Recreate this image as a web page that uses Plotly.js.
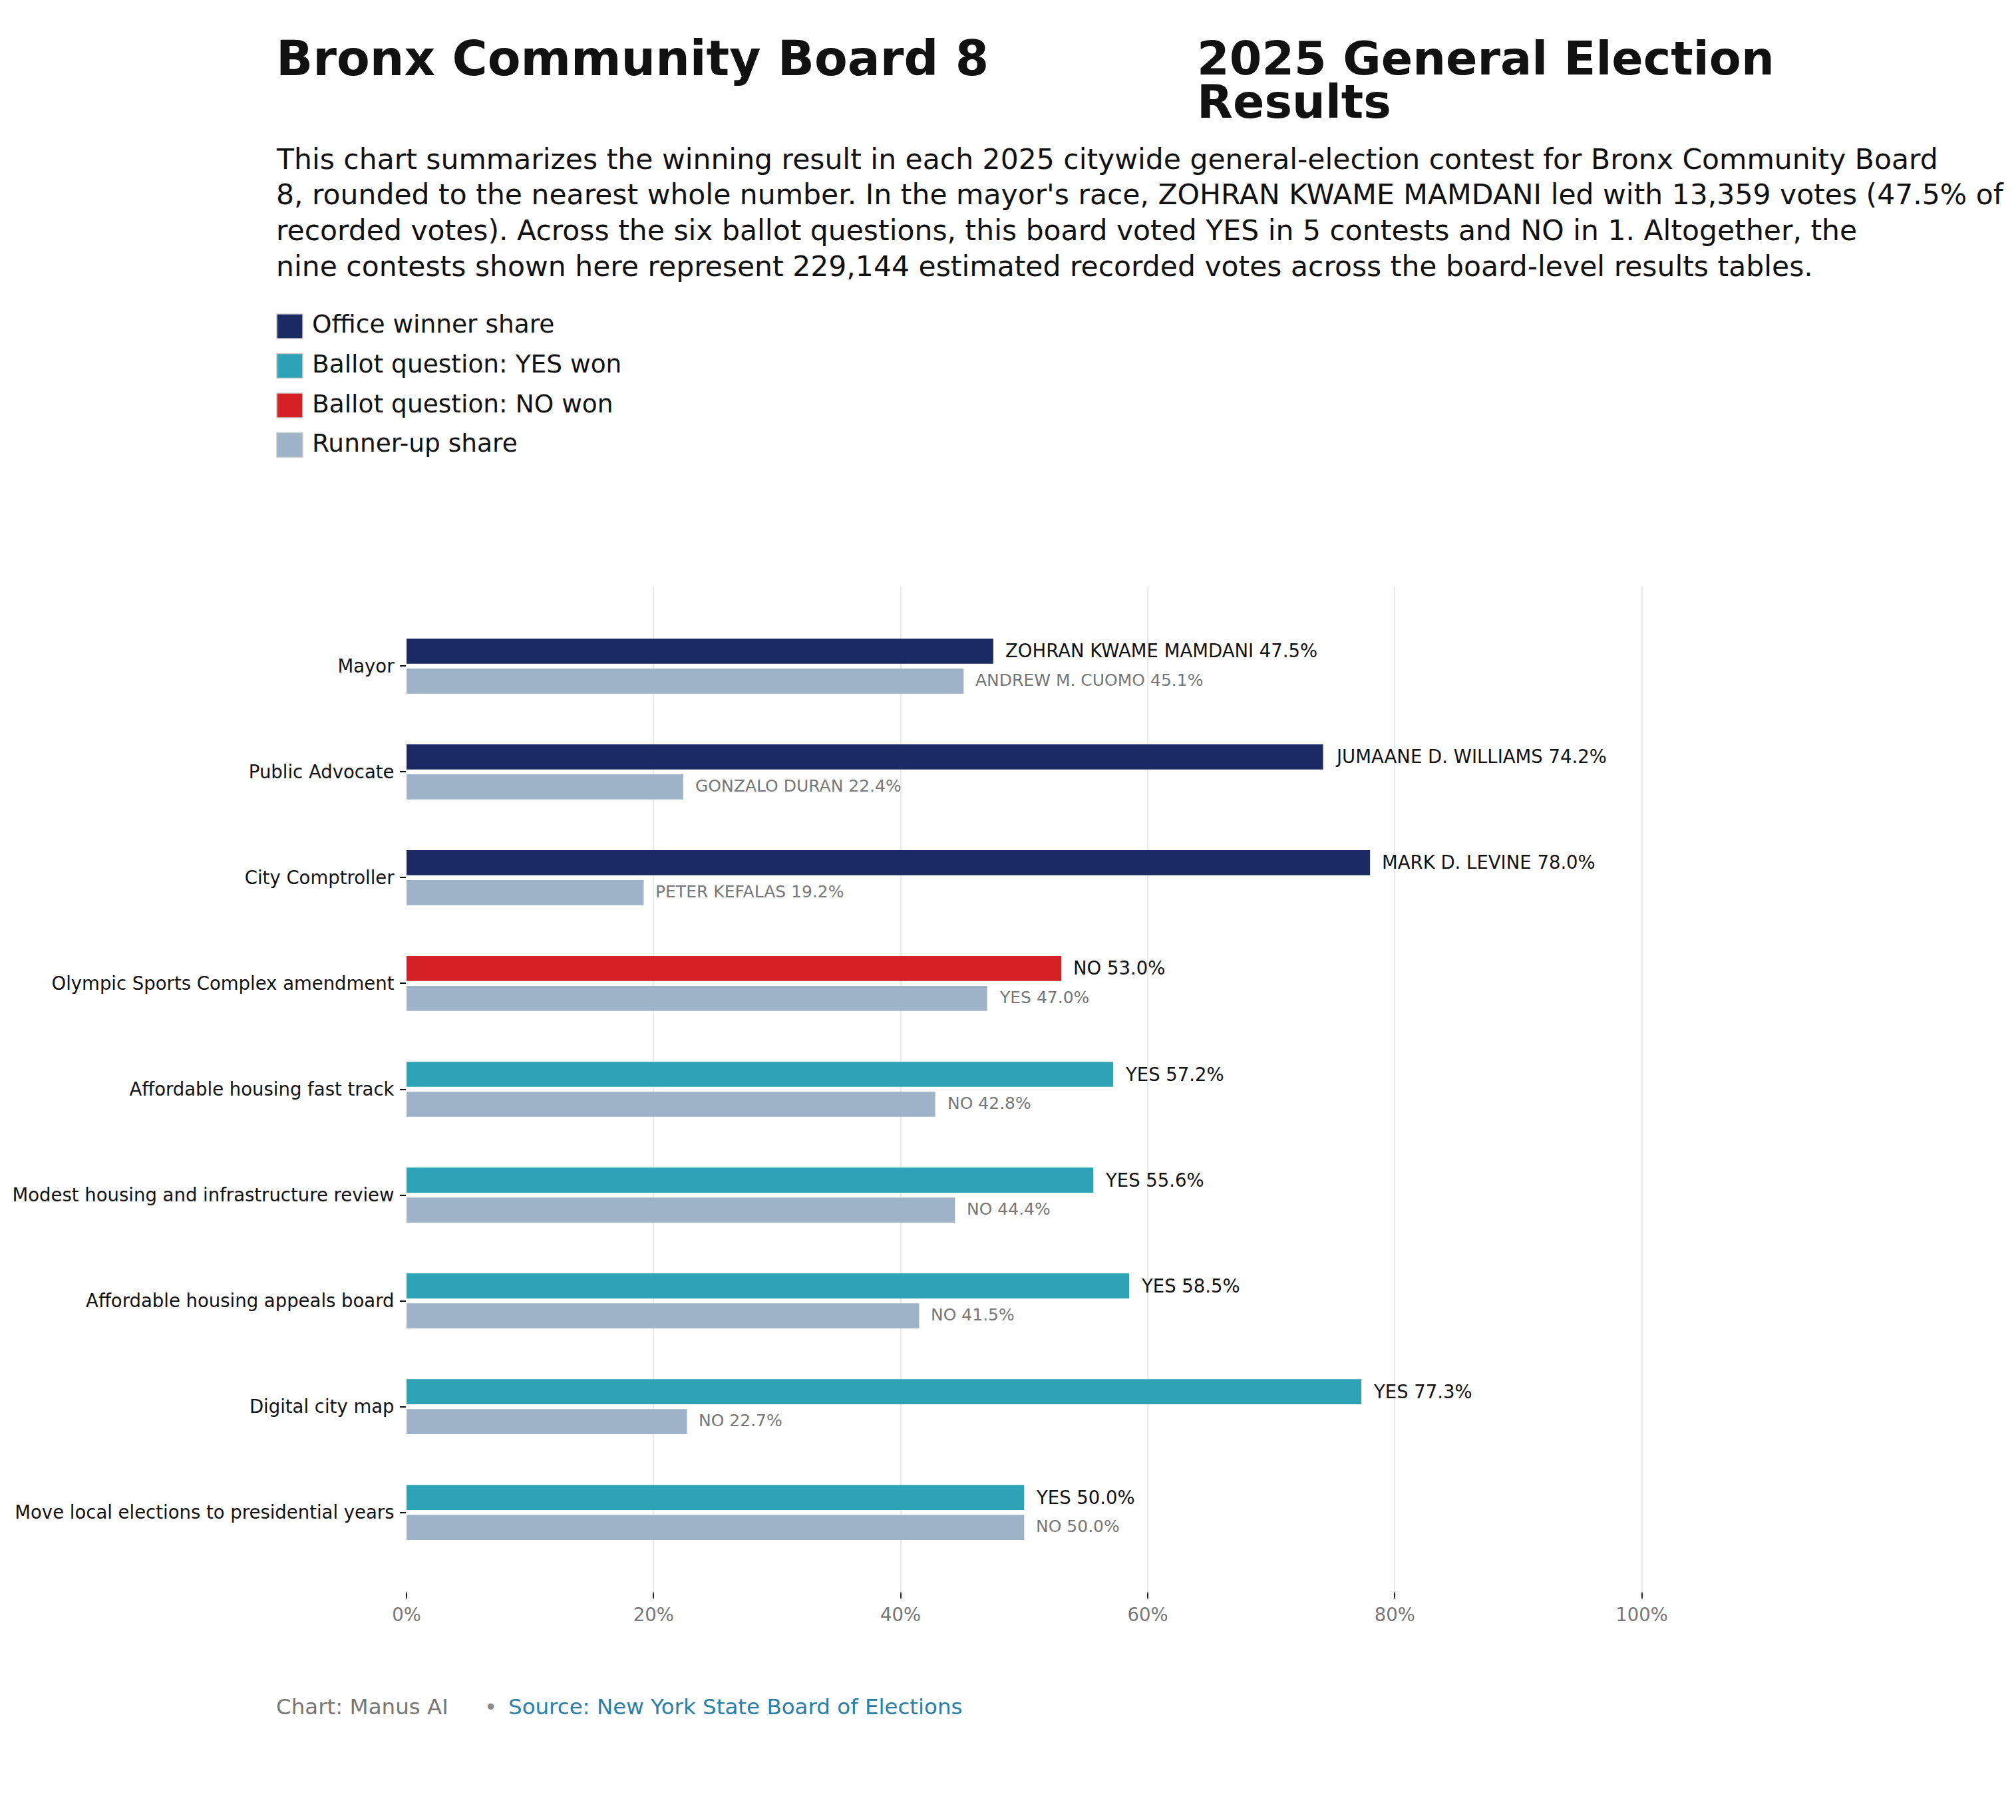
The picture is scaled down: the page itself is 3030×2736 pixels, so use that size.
<!DOCTYPE html>
<html>
<head>
<meta charset="utf-8">
<script src="https://cdn.plot.ly/plotly-3.0.1.min.js"></script>
<style>
  html, body { margin: 0; padding: 0; background: #ffffff; }
  #chart { width: 3030px; height: 2736px; }
</style>
</head>
<body>
<div id="chart"></div>
<script>
// contests, top to bottom
var contests = [
    "Mayor",
    "Public Advocate",
    "City Comptroller",
    "Olympic Sports Complex amendment",
    "Affordable housing fast track",
    "Modest housing and infrastructure review",
    "Affordable housing appeals board",
    "Digital city map",
    "Move local elections to presidential years"
];
var winnerKind = ["office", "office", "office", "no", "yes", "yes", "yes", "yes", "yes"];
var winnerNames = ["ZOHRAN KWAME MAMDANI", "JUMAANE D. WILLIAMS", "MARK D. LEVINE", "NO", "YES", "YES", "YES", "YES", "YES"];
var winnerPct = [47.5, 74.2, 78.0, 53.0, 57.2, 55.6, 58.5, 77.3, 50.0];
var runnerNames = ["ANDREW M. CUOMO", "GONZALO DURAN", "PETER KEFALAS", "YES", "NO", "NO", "NO", "NO", "NO"];
var runnerPct = [45.1, 22.4, 19.2, 47.0, 42.8, 44.4, 41.5, 22.7, 50.0];
var xTicks = [0, 20, 40, 60, 80, 100];

var legendLabels = ["Office winner share", "Ballot question: YES won", "Ballot question: NO won", "Runner-up share"];

var descLines = [
    "This chart summarizes the winning result in each 2025 citywide general-election contest for Bronx Community Board",
    "8, rounded to the nearest whole number. In the mayor's race, ZOHRAN KWAME MAMDANI led with 13,359 votes (47.5% of",
    "recorded votes). Across the six ballot questions, this board voted YES in 5 contests and NO in 1. Altogether, the",
    "nine contests shown here represent 229,144 estimated recorded votes across the board-level results tables."
];

var COLORS = {office: "#1b2a63", yes: "#2ea3b6", no: "#d62226", runner: "#9fb3c8"};
var legendColors = [COLORS.office, COLORS.yes, COLORS.no, COLORS.runner];

var FONT = "DejaVu Sans, Verdana, sans-serif";

// page geometry (pixels)
var W = 3030, H = 2736;
var M = {l: 611, r: 451, t: 882, b: 343};
var plotW = W - M.l - M.r, plotH = H - M.t - M.b;
// absolute pixel -> paper coords
function px(x) { return (x - M.l) / plotW; }
function py(y) { return (H - M.b - y) / plotH; }

function pctLabel(name, v) { return name + " " + v.toFixed(1) + "%"; }

var winners = {
    type: "bar",
    orientation: "h",
    name: "Winner",
    y: contests,
    x: winnerPct,
    offsetgroup: "winner",
    marker: {color: winnerKind.map(function (k) { return COLORS[k]; })},
    hoverinfo: "skip",
    showlegend: false
};
var runners = {
    type: "bar",
    orientation: "h",
    name: "Runner-up share",
    y: contests,
    x: runnerPct,
    offsetgroup: "runner",
    marker: {color: COLORS.runner},
    hoverinfo: "skip",
    showlegend: false
};

var annotations = [];

// bar end labels
contests.forEach(function (c, i) {
    annotations.push({
        xref: "x", yref: "y", x: winnerPct[i], y: c,
        text: pctLabel(winnerNames[i], winnerPct[i]),
        showarrow: false, xanchor: "left", yanchor: "middle",
        xshift: 16, yshift: 23,
        font: {family: FONT, size: 27.5, color: "#111111"}
    });
    annotations.push({
        xref: "x", yref: "y", x: runnerPct[i], y: c,
        text: pctLabel(runnerNames[i], runnerPct[i]),
        showarrow: false, xanchor: "left", yanchor: "middle",
        xshift: 16, yshift: -21,
        font: {family: FONT, size: 25, color: "#777777"}
    });
});

// header
annotations.push({
    xref: "paper", yref: "paper", x: px(413), y: py(88),
    text: "Bronx Community Board 8", showarrow: false,
    xanchor: "left", yanchor: "middle",
    font: {family: FONT, size: 72.5, weight: "bold", color: "#111111"}
});
annotations.push({
    xref: "paper", yref: "paper", x: px(1797), y: py(88),
    text: "2025 General Election", showarrow: false,
    xanchor: "left", yanchor: "middle",
    font: {family: FONT, size: 70, weight: "bold", color: "#111111"}
});
annotations.push({
    xref: "paper", yref: "paper", x: px(1797), y: py(153),
    text: "Results", showarrow: false,
    xanchor: "left", yanchor: "middle",
    font: {family: FONT, size: 70, weight: "bold", color: "#111111"}
});
descLines.forEach(function (line, i) {
    annotations.push({
        xref: "paper", yref: "paper", x: px(413), y: py(239 + i * 53.7),
        text: line, showarrow: false, align: "left",
        xanchor: "left", yanchor: "middle",
        font: {family: FONT, size: 42.5, color: "#111111"}
    });
});

// legend swatches and labels
var shapes = [];
legendLabels.forEach(function (lab, i) {
    var cy = 490.5 + i * 59.5;
    shapes.push({
        type: "rect", xref: "paper", yref: "paper",
        x0: px(416), x1: px(455), y0: py(cy - 18.5), y1: py(cy + 18.5),
        fillcolor: legendColors[i], line: {color: "#cccccc", width: 1.5}
    });
    annotations.push({
        xref: "paper", yref: "paper", x: px(467), y: py(cy - 3),
        text: lab, showarrow: false, xanchor: "left", yanchor: "middle",
        font: {family: FONT, size: 37.5, color: "#111111"}
    });
});

// footer
annotations.push({
    xref: "paper", yref: "paper", x: px(413), y: py(2566),
    text: "Chart: Manus AI", showarrow: false, xanchor: "left", yanchor: "middle",
    font: {family: FONT, size: 32.5, color: "#777777"}
});
annotations.push({
    xref: "paper", yref: "paper", x: px(737), y: py(2566),
    text: "•", showarrow: false, xanchor: "center", yanchor: "middle",
    font: {family: FONT, size: 32.5, color: "#888888"}
});
annotations.push({
    xref: "paper", yref: "paper", x: px(762), y: py(2566),
    text: "Source: New York State Board of Elections", showarrow: false, xanchor: "left", yanchor: "middle",
    font: {family: FONT, size: 32.5, color: "#2b7fa6"}
});

var layout = {
    width: W,
    height: H,
    margin: M,
    paper_bgcolor: "#ffffff",
    plot_bgcolor: "#ffffff",
    barmode: "group",
    bargap: 0.434,
    bargroupgap: 0.162,
    showlegend: false,
    font: {family: FONT, color: "#111111"},
    xaxis: {
        range: [0, 106],
        tickvals: xTicks,
        ticktext: xTicks.map(function (t) { return t + "%"; }),
        showgrid: true,
        gridcolor: "#e6e9ee",
        gridwidth: 2,
        zeroline: false,
        showline: false,
        ticks: "outside",
        ticklen: 9,
        tickwidth: 2,
        tickcolor: "#222222",
        ticklabelstandoff: 1,
        tickfont: {family: FONT, size: 27.5, color: "#777777"},
        fixedrange: true
    },
    yaxis: {
        type: "category",
        categoryorder: "array",
        categoryarray: contests,
        range: [8.75, -0.75],
        showgrid: false,
        zeroline: false,
        showline: false,
        ticks: "outside",
        ticklen: 9,
        tickwidth: 2,
        tickcolor: "#111111",
        ticklabelstandoff: 3,
        tickfont: {family: FONT, size: 27.5, color: "#111111"},
        fixedrange: true
    },
    annotations: annotations,
    shapes: shapes
};

Plotly.newPlot("chart", [winners, runners], layout, {displayModeBar: false, staticPlot: true});
</script>
</body>
</html>
